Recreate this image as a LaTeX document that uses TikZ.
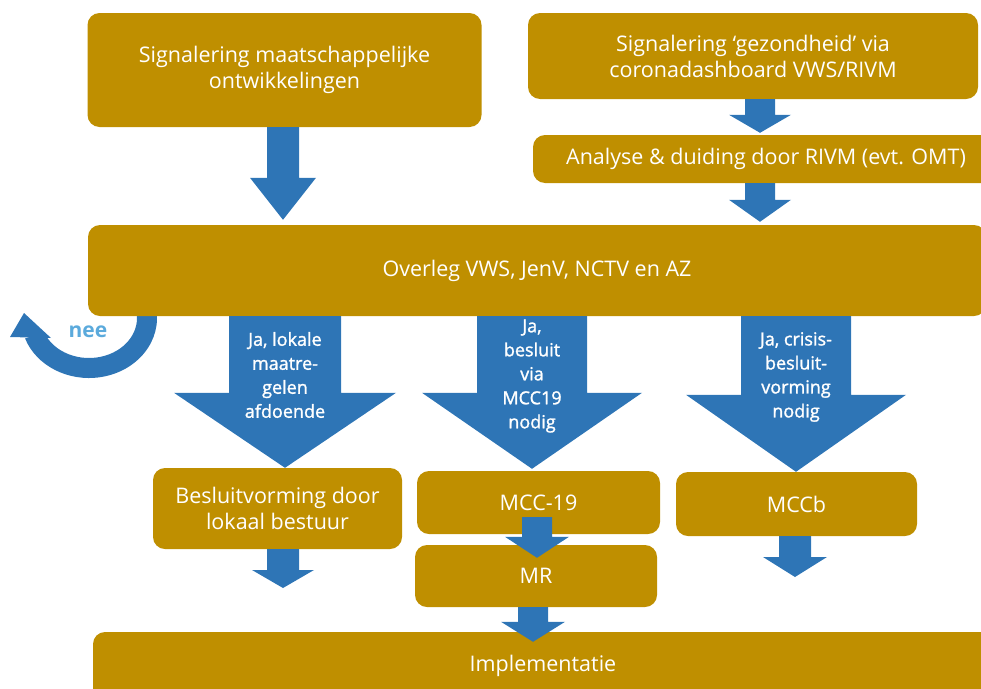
\documentclass[tikz,border=0pt]{standalone}
\usepackage{fontspec}
\setmainfont{Open Sans}
\newfontfamily\halfvet[FakeBold=1.4]{Open Sans}
\usepackage{xcolor}
\usetikzlibrary{calc}
\definecolor{goud}{RGB}{191,143,0}
\definecolor{pijlblauw}{RGB}{46,117,182}
\definecolor{neeblauw}{RGB}{91,170,220}
\newcommand{\blokpijl}[5]{\fill[pijl] ($(#1)+(-#3,0)$) -- ($(#2)+(-#3,-#5)$) -- ($(#2)+(-#4,-#5)$) -- (#2) -- ($(#2)+(#4,-#5)$) -- ($(#2)+(#3,-#5)$) -- ($(#1)+(#3,0)$) -- cycle;}

\begin{document}
\begin{tikzpicture}[x=1pt, y=-1pt,
  blok/.style={fill=goud, rounded corners=12pt, text=white, align=center, inner sep=0pt, font=\fontsize{21.5}{26}\selectfont},
  pijl/.style={fill=pijlblauw},
  pijltekst/.style={text=white, align=center, font=\halfvet\fontsize{18}{24}\selectfont}]
\useasboundingbox (0,0) rectangle (981,688);
\clip (0,0) rectangle (981,688);
\coordinate (ring) at (89,318);
\fill[pijlblauw] ($(ring)+(-10:68 and 60)$) arc[start angle=-10, end angle=160, x radius=68, y radius=60] -- ($(ring)+(160:48 and 40)$) arc[start angle=160, end angle=-10, x radius=48, y radius=40] -- cycle;
\fill[pijlblauw] (10,337) -- (24,313) -- (51,338) -- cycle;
\node[text=neeblauw, font=\fontsize{21}{24}\selectfont\bfseries] (nee) at (88,332) {nee};
\node[blok, minimum width=394, minimum height=114] (A) at (284.5,70) {Signalering maatschappelijke\\ontwikkelingen};
\node[blok, minimum width=450, minimum height=86] (B) at (753,56) {Signalering ‘gezondheid’ via\\coronadashboard VWS/RIVM};
\node[blok, minimum width=466, minimum height=48] (C) at (766,159) {Analyse \& duiding door RIVM (evt. OMT)};
\node[blok, minimum width=898, minimum height=91] (D) at (537,270.5) {Overleg VWS, JenV, NCTV en AZ};
\node[blok, minimum width=249, minimum height=81] (lok) at (277.5,508.5) {Besluitvorming door\\lokaal bestuur};
\node[blok, minimum width=243, minimum height=63] (mcc) at (538.5,502.5) {MCC-19};
\node[blok, minimum width=242, minimum height=62] (mr) at (536,576) {MR};
\node[blok, minimum width=241, minimum height=64] (mccb) at (796.5,504) {MCCb};
\node[blok, minimum width=900, minimum height=68] (impl) at (543,666) {Implementatie};
\coordinate (xA) at (283,0);
\coordinate (xG) at (760,0);
\coordinate (xL) at (285,0);
\coordinate (xM) at (532,0);
\coordinate (xR) at (796,0);
\coordinate (xMR) at (537,0);
\coordinate (xIm) at (533,0);
\coordinate (tA) at ($(D.north -| xA)+(0,-5)$);
\coordinate (tB) at ($(C.north -| xG)+(0,-2)$);
\coordinate (tC) at ($(D.north -| xG)+(0,-3)$);
\coordinate (tM) at ($(mcc.north -| xM)+(0,-2)$);
\coordinate (sMR) at ($(mcc.south -| xMR)+(0,-17)$);
\coordinate (tMR) at ($(mr.north -| xMR)+(0,13)$);
\coordinate (tIm) at ($(impl.north -| xIm)+(0,10)$);
\coordinate (uitlok) at (283,588);
\coordinate (uitmccb) at (795,577);
\blokpijl{A.south -| xA}{tA}{16}{33}{42}
\blokpijl{B.south -| xG}{tB}{15}{31}{18}
\blokpijl{C.south -| xG}{tC}{15}{31}{22}
\blokpijl{D.south -| xL}{lok.north -| xL}{56}{111}{75}
\blokpijl{D.south -| xM}{tM}{55}{110}{76}
\blokpijl{D.south -| xR}{mccb.north -| xR}{55}{110}{77}
\blokpijl{lok.south -| uitlok}{uitlok}{16}{31}{18}
\blokpijl{sMR}{tMR}{15}{32}{21}
\blokpijl{mr.south -| xIm}{tIm}{15}{32}{20}
\blokpijl{mccb.south -| uitmccb}{uitmccb}{16}{32}{20}
\node[pijltekst] (jlok) at (285,375) {Ja, lokale\\maatre-\\gelen\\afdoende};
\node[pijltekst] (jmcc) at (532,376) {Ja,\\besluit\\via\\MCC19\\nodig};
\node[pijltekst] (jcrisis) at (796,377) {Ja, crisis-\\besluit-\\vorming\\nodig};
\end{tikzpicture}
\end{document}
